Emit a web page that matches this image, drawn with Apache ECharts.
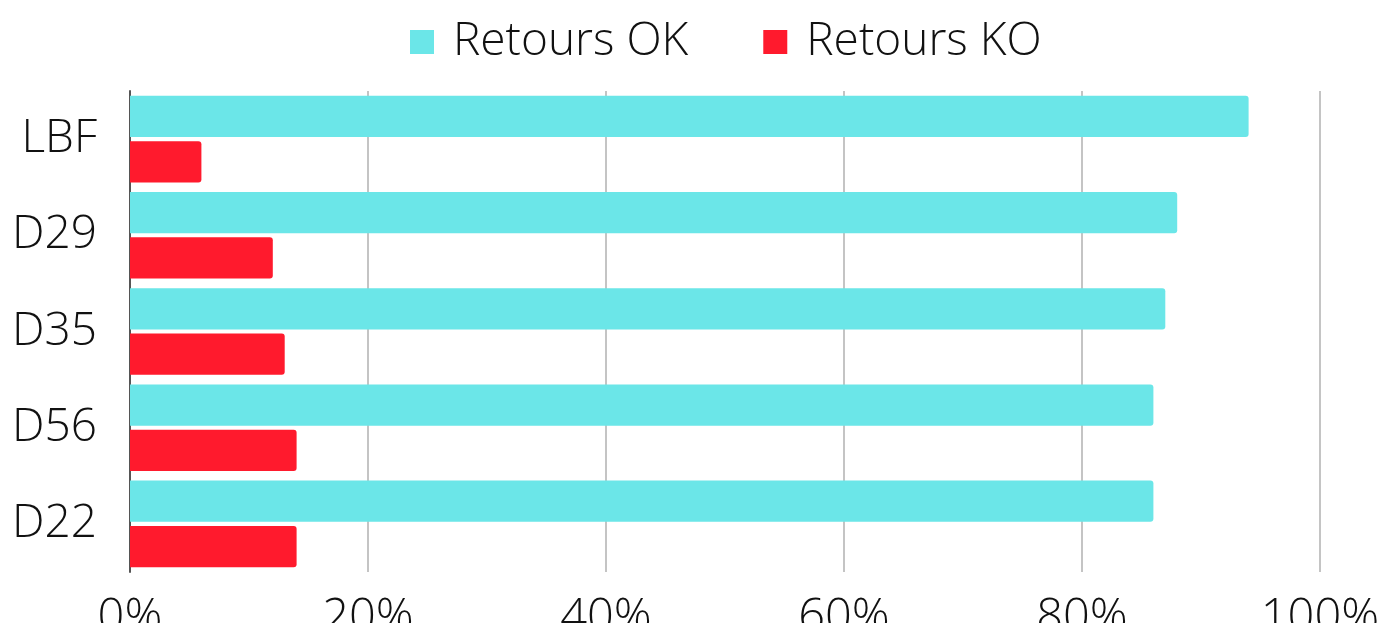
<!DOCTYPE html>
<html>
<head>
<meta charset="utf-8">
<script src="https://cdn.jsdelivr.net/npm/echarts@6/dist/echarts.min.js"></script>
<style>
  html, body { margin: 0; padding: 0; background: #fff; }
  #main { width: 1382px; height: 623px; }
</style>
</head>
<body>
<div id="main"></div>
<script>
var categories = ['LBF', 'D29', 'D35', 'D56', 'D22'];
var retoursOK = [94, 88, 87, 86, 86];
var retoursKO = [6, 12, 13, 14, 14];
var xTicks = [0, 20, 40, 60, 80, 100];

var chart = echarts.init(document.getElementById('main'));
var font = '"Open Sans", sans-serif';

var option = {
    textStyle: { fontFamily: font, fontWeight: 300 },
    legend: {
        top: 14,
        left: 405,
        itemWidth: 24,
        itemHeight: 24,
        itemGap: 75,
        icon: 'rect',
        textStyle: {
            fontFamily: font,
            fontWeight: 300,
            fontSize: 46,
            color: '#111',
            padding: [0, 0, 0, 14]
        },
        data: ['Retours OK', 'Retours KO']
    },
    grid: {
        left: 130,
        right: 62,
        top: 91,
        height: 481,
        containLabel: false,
        outerBoundsMode: 'none'
    },
    xAxis: {
        type: 'value',
        min: 0,
        max: 100,
        interval: 20,
        axisLine: { show: false },
        axisTick: { show: false },
        splitLine: { lineStyle: { color: '#c4c4c4', width: 2 } },
        axisLabel: {
            fontFamily: font,
            fontWeight: 300,
            fontSize: 47,
            color: '#111',
            margin: 23,
            formatter: function (v) {
                return xTicks.indexOf(v) >= 0 ? v + '%' : '';
            }
        }
    },
    yAxis: {
        type: 'category',
        inverse: true,
        data: categories,
        axisLine: { lineStyle: { color: '#555', width: 2 } },
        axisTick: { show: false },
        axisLabel: {
            fontFamily: font,
            fontWeight: 300,
            fontSize: 46,
            color: '#111',
            margin: 33
        }
    },
    series: [
        {
            name: 'Retours OK',
            type: 'bar',
            data: retoursOK,
            barGap: '10%',
            barCategoryGap: '10%',
            itemStyle: { color: '#6be6e8', borderRadius: [0, 3, 3, 0] }
        },
        {
            name: 'Retours KO',
            type: 'bar',
            data: retoursKO,
            itemStyle: { color: '#ff1a2d', borderRadius: [0, 3, 3, 0] }
        }
    ]
};

chart.setOption(option);
window.onresize = chart.resize;
</script>
</body>
</html>
